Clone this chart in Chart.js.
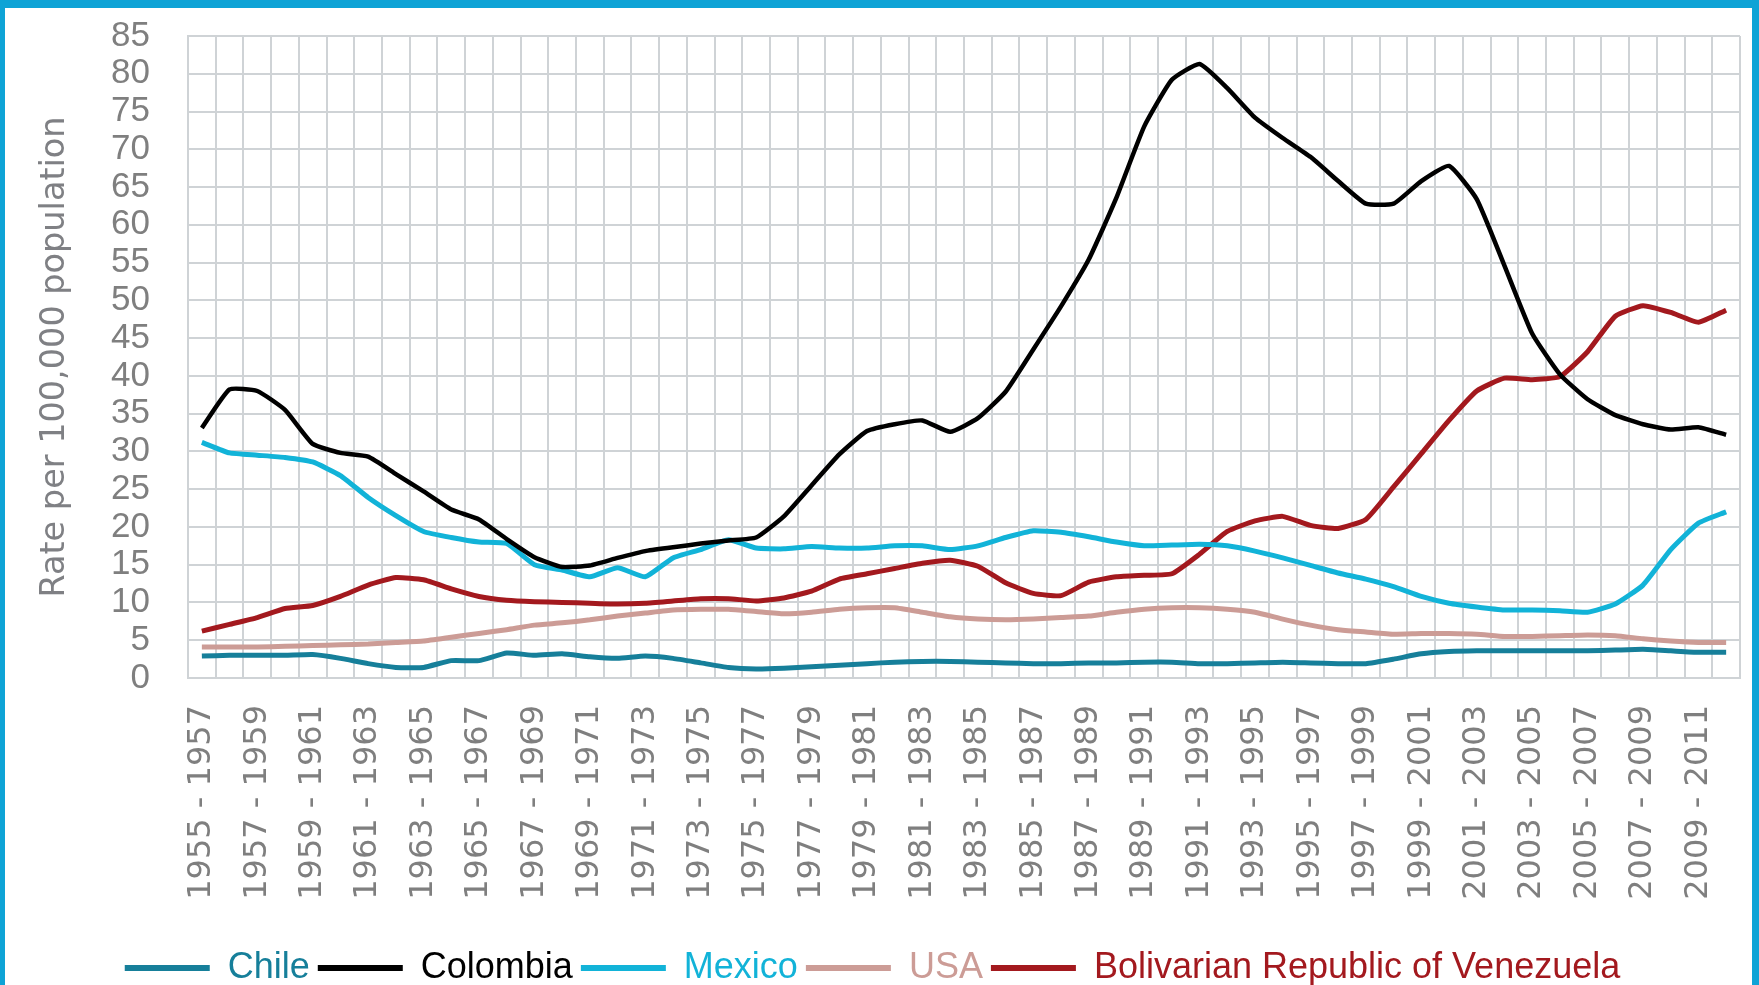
<!DOCTYPE html>
<html>
<head>
<meta charset="utf-8">
<script src="https://cdn.jsdelivr.net/npm/chart.js@4"></script>
<style>
  html, body { margin: 0; padding: 0; background: #fff; }
  #frame {
    position: absolute; left: 0; top: 0;
    width: 1747px; height: 977px;
    border-left: 5px solid #0ea3d6;
    border-right: 7px solid #0ea3d6;
    border-top: 8px solid #0ea3d6;
    background: #fff;
  }
  #chart { display: block; }
</style>
</head>
<body>
<div id="frame"><canvas id="chart" width="1747" height="977"></canvas></div>
<script>
// Periods (three-year windows)
const periods = [
  "1955 - 1957","1956 - 1958","1957 - 1959","1958 - 1960","1959 - 1961","1960 - 1962","1961 - 1963",
  "1962 - 1964","1963 - 1965","1964 - 1966","1965 - 1967","1966 - 1968","1967 - 1969","1968 - 1970",
  "1969 - 1971","1970 - 1972","1971 - 1973","1972 - 1974","1973 - 1975","1974 - 1976","1975 - 1977",
  "1976 - 1978","1977 - 1979","1978 - 1980","1979 - 1981","1980 - 1982","1981 - 1983","1982 - 1984",
  "1983 - 1985","1984 - 1986","1985 - 1987","1986 - 1988","1987 - 1989","1988 - 1990","1989 - 1991",
  "1990 - 1992","1991 - 1993","1992 - 1994","1993 - 1995","1994 - 1996","1995 - 1997","1996 - 1998",
  "1997 - 1999","1998 - 2000","1999 - 2001","2000 - 2002","2001 - 2003","2002 - 2004","2003 - 2005",
  "2004 - 2006","2005 - 2007","2006 - 2008","2007 - 2009","2008 - 2010","2009 - 2011","2010 - 2012"
];

// Homicide rate per 100,000 population
const chile = [2.9,3.0,3.0,3.0,3.1,2.6,1.9,1.4,1.4,2.3,2.3,3.3,3.0,3.2,2.8,2.6,2.9,2.6,2.0,1.4,1.2,
  1.3,1.5,1.7,1.9,2.1,2.2,2.2,2.1,2.0,1.9,1.9,2.0,2.0,2.1,2.1,1.9,1.9,2.0,2.1,2.0,1.9,
  1.9,2.5,3.2,3.5,3.6,3.6,3.6,3.6,3.6,3.7,3.8,3.6,3.4,3.4];
const colombia = [33.1,38.2,38.0,35.5,31.0,29.8,29.3,27.0,24.7,22.3,21.0,18.4,16.0,14.7,14.9,15.9,16.8,
  17.3,17.8,18.2,18.6,21.4,25.5,29.6,32.7,33.6,34.1,32.6,34.4,37.9,43.5,49.2,55.4,63.6,73.0,79.2,
  81.3,78.1,74.2,71.5,69.0,65.8,62.8,62.8,65.8,67.8,63.4,54.6,45.6,40.2,36.9,34.8,33.6,32.9,33.2,32.2];
const mexico = [31.2,29.8,29.5,29.2,28.6,26.8,23.9,21.5,19.4,18.6,18.0,17.8,15.0,14.3,13.4,14.6,13.4,
  15.9,17.0,18.3,17.2,17.1,17.4,17.2,17.2,17.5,17.5,17.0,17.5,18.6,19.5,19.3,18.7,18.0,17.5,17.6,
  17.7,17.5,16.8,15.9,14.9,13.9,13.1,12.1,10.8,9.9,9.4,9.0,9.0,8.9,8.7,9.8,12.3,17.0,20.5,22.0];
const usa = [4.1,4.1,4.1,4.2,4.3,4.4,4.5,4.7,4.9,5.4,5.9,6.4,7.0,7.3,7.7,8.2,8.6,9.0,9.1,9.1,8.8,
  8.5,8.7,9.1,9.3,9.3,8.7,8.1,7.8,7.7,7.8,8.0,8.2,8.7,9.1,9.3,9.3,9.1,8.7,7.8,7.0,6.4,
  6.1,5.8,5.9,5.9,5.8,5.5,5.5,5.6,5.7,5.6,5.2,4.9,4.7,4.7];
const venezuela = [6.2,7.1,8.0,9.2,9.6,10.8,12.3,13.3,13.0,11.8,10.8,10.3,10.1,10.0,9.9,9.8,9.9,10.2,
  10.5,10.5,10.2,10.6,11.5,13.1,13.8,14.5,15.2,15.6,14.8,12.6,11.2,10.9,12.7,13.4,13.6,13.8,16.4,
  19.4,20.8,21.4,20.2,19.8,21.0,25.3,29.7,34.1,38.0,39.7,39.5,39.9,43.2,47.9,49.3,48.4,47.1,48.7];

const seriesNames = ["Chile", "Colombia", "Mexico", "USA", "Bolivarian Republic of Venezuela"];
const seriesData = [chile, colombia, mexico, usa, venezuela];
const seriesColors = ["#167f9a", "#000000", "#12b3d8", "#cc9c96", "#a3191e"];

const gridColor = "#cfd3d6";
const tickColor = "#7f7f7f";
const plotBottom = 670;   // bottom of the plot area inside the canvas
const legendShift = 11;   // legend sits a bit lower, partly clipped like the original

const ctx = document.getElementById('chart').getContext('2d');
const chart = new Chart(ctx, {
  type: 'line',
  data: {
    labels: periods,
    datasets: seriesNames.map((name, i) => ({
      label: name,
      data: seriesData[i],
      borderColor: seriesColors[i],
      backgroundColor: seriesColors[i],
      borderWidth: i === 1 ? 4.5 : 5,
      pointRadius: 0,
      tension: 0.15,
      fill: false
    }))
  },
  options: {
    responsive: false,
    animation: false,
    layout: { padding: { left: 0, right: 12, top: 28, bottom: -legendShift } },
    plugins: {
      title: { display: false },
      tooltip: { enabled: false },
      legend: {
        position: 'bottom',
        labels: {
          font: { family: "'Liberation Sans', Arial, sans-serif", size: 36 },
          boxWidth: 85,
          boxHeight: 6,
          padding: 8,
          generateLabels: (c) => c.data.datasets.map((ds, i) => ({
            text: ds.label,
            fillStyle: seriesColors[i],
            strokeStyle: seriesColors[i],
            lineWidth: 0,
            fontColor: seriesColors[i],
            hidden: false,
            datasetIndex: i
          }))
        }
      }
    },
    scales: {
      x: {
        offset: true,
        grid: { offset: true, color: gridColor, lineWidth: 2, drawTicks: false },
        border: { display: true, color: gridColor, width: 2 },
        ticks: {
          autoSkip: false,
          maxRotation: 90,
          minRotation: 90,
          padding: 27,
          color: tickColor,
          font: { family: "'DejaVu Sans', Verdana, sans-serif", size: 32 },
          callback: function (val, idx) {
            return idx % 2 === 0 ? this.getLabelForValue(val) : '';
          }
        },
        afterFit: (scale) => {
          const legendH = scale.chart.legend ? scale.chart.legend.height : 60;
          scale.height = scale.chart.height + legendShift - plotBottom - legendH;
          scale.paddingLeft = 0;
          scale.paddingRight = 0;
        }
      },
      y: {
        min: 0,
        max: 85,
        grid: { color: gridColor, lineWidth: 2, drawTicks: false },
        border: { display: true, color: gridColor, width: 2 },
        ticks: {
          stepSize: 5,
          autoSkip: false,
          padding: 38,
          color: tickColor,
          font: { family: "'Liberation Sans', Arial, sans-serif", size: 35 }
        },
        title: {
          display: true,
          text: 'Rate per 100,000 population',
          color: '#7f8084',
          font: { family: "'DejaVu Sans', Verdana, sans-serif", size: 33.5 },
          padding: { top: 30, bottom: 0 }
        },
        afterFit: (scale) => {
          scale.width = 183;
          scale.paddingTop = 0;
          scale.paddingBottom = 0;
        }
      }
    }
  }
});
</script>
</body>
</html>
